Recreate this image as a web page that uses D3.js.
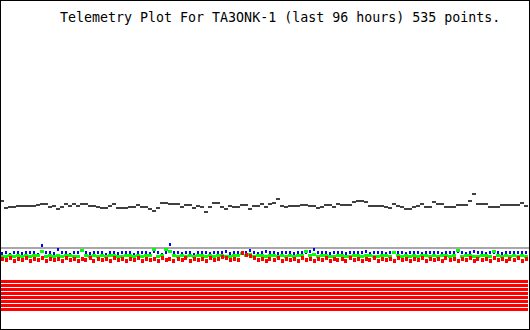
<!DOCTYPE html>
<html>
<head>
<meta charset="utf-8">
<script src="https://cdn.jsdelivr.net/npm/d3@7"></script>
<style>
  html, body { margin: 0; padding: 0; background: #fff; }
  svg { display: block; }
</style>
</head>
<body>
<script>
// ---- data ----
const title = "Telemetry Plot For TA3ONK-1 (last 96 hours) 535 points.";

// dark-grey channel (sampled every ~4 px across the plot)
const ch1 = [
  12.90,12.20,12.27,12.27,12.43,12.43,12.37,12.37,12.37,12.50,
  12.55,12.60,12.30,12.45,12.05,12.27,12.60,12.43,12.55,12.45,
  12.60,12.55,12.45,12.45,12.35,12.20,12.20,12.40,12.60,12.17,
  12.17,12.25,12.33,12.33,12.53,12.35,12.35,12.15,11.90,12.20,
  12.67,12.67,12.55,12.60,12.60,12.33,12.50,12.50,12.20,12.43,
  12.33,11.85,12.30,12.67,12.67,12.30,12.10,12.43,12.33,12.33,
  12.50,12.50,12.15,12.43,12.43,12.60,12.33,12.60,12.67,13.10,
  12.43,12.27,12.43,12.43,12.43,12.50,12.50,12.43,12.43,12.25,
  12.33,12.50,12.50,12.33,12.60,12.50,12.50,12.50,12.77,12.93,
  12.93,12.85,12.40,12.43,12.43,12.40,12.33,12.20,12.60,12.43,
  12.27,12.10,12.15,12.33,12.43,12.60,12.33,12.33,12.77,12.60,
  12.55,12.33,12.33,12.33,12.50,12.53,12.53,12.90,13.60,12.63,
  12.63,12.55,12.33,12.33,12.33,12.50,12.50,12.50,12.50,12.50,
  12.70,12.45
];

const chBlue = [
  7.65,7.70,7.60,7.75,7.80,7.65,7.80,7.70,7.75,7.60,
  8.40,7.70,7.75,7.65,8.05,7.80,7.70,7.60,7.75,7.80,
  8.00,7.70,7.65,7.80,7.70,7.75,7.60,7.80,7.70,7.65,
  7.75,7.80,7.70,7.60,7.75,7.70,7.80,7.65,7.85,7.70,
  7.60,7.75,8.55,7.70,7.80,7.65,7.75,7.70,7.60,7.80,
  7.70,7.75,7.65,7.80,7.70,7.75,7.85,7.65,7.70,7.80,
  7.75,7.70,8.00,7.80,7.65,7.75,7.90,7.70,7.80,7.65,
  7.75,7.70,7.80,7.65,7.75,7.80,7.70,7.85,8.05,7.70,
  7.75,7.80,7.65,7.70,7.80,7.75,7.65,7.70,7.80,7.75,
  7.70,7.85,7.65,7.75,7.70,7.80,7.65,7.75,7.70,7.80,
  7.75,7.65,7.80,7.70,7.75,7.65,7.80,7.70,7.75,7.80,
  7.65,7.70,7.80,7.75,7.85,7.70,7.65,7.75,7.85,7.70,
  7.80,7.65,7.75,7.70,7.80,7.65,7.75,7.80,7.70,7.75,
  7.80,7.70
];

const chGreen = [
  7.40,7.35,7.45,7.40,7.50,7.35,7.45,7.40,7.50,7.45,
  7.85,7.40,7.45,7.35,7.50,7.40,7.45,7.50,7.40,7.35,
  7.95,7.45,7.40,7.50,7.35,7.45,7.40,7.50,7.45,7.40,
  7.35,7.45,7.50,7.40,7.45,7.35,7.50,7.45,8.05,7.40,
  7.50,8.05,7.90,7.45,7.40,7.50,7.35,7.45,7.40,7.50,
  7.45,7.35,7.50,7.40,7.45,7.50,7.40,7.35,7.45,7.50,
  7.65,7.45,7.55,7.40,7.45,7.50,7.35,7.45,7.50,7.40,
  7.45,7.35,7.50,7.40,7.45,7.50,7.85,7.45,7.60,7.40,
  7.50,7.45,7.35,7.40,7.50,7.45,7.40,7.35,7.50,7.45,
  7.40,7.50,7.45,7.35,7.40,7.50,7.45,7.40,7.75,7.45,
  7.40,7.50,7.35,7.45,7.40,7.50,7.45,7.35,7.50,7.40,
  7.45,7.50,7.40,7.45,7.95,7.40,7.50,7.45,7.35,7.40,
  7.50,7.45,7.40,7.85,7.50,7.40,7.45,7.35,7.50,7.40,
  7.45,7.40
];

const chRed = [
  7.15,7.00,7.20,6.95,7.15,7.05,7.20,6.95,7.10,7.00,
  7.20,6.95,7.15,7.05,7.10,6.90,7.20,7.00,7.15,6.95,
  7.10,7.00,7.20,6.95,7.15,7.05,7.10,6.90,7.20,7.00,
  7.15,6.95,7.10,7.05,7.20,6.95,7.15,7.00,7.10,6.90,
  7.20,7.00,7.15,6.95,7.10,7.05,7.20,6.95,7.15,7.00,
  7.10,6.90,7.20,7.00,7.15,7.30,7.25,7.00,7.15,7.05,
  7.70,7.50,7.40,7.20,7.00,7.15,6.95,7.10,7.05,7.20,
  6.95,7.15,7.00,7.10,6.90,7.20,7.00,7.15,6.95,7.10,
  7.05,7.20,6.95,7.15,7.00,7.10,6.90,7.20,7.00,7.15,
  6.95,7.10,7.05,7.20,6.95,7.15,7.00,7.10,6.90,7.20,
  7.00,7.15,6.95,7.10,7.05,7.20,6.95,7.15,7.00,7.10,
  6.90,7.20,7.00,7.15,6.95,7.10,7.05,7.20,6.95,7.15,
  7.00,7.10,6.90,7.20,7.00,7.15,6.95,7.10,7.05,7.20,
  6.95,7.10
];

const refLevel = [8.2];
const bitChannels = ["B1","B2","B3","B4","B5","B6","B7","B8"];
const bitState = [1,1,1,1,1,1,1,1];

// ---- drawing ----
const W = 530, H = 330;
const svg = d3.select("body").append("svg")
  .attr("width", W).attr("height", H)
  .attr("shape-rendering", "crispEdges");

svg.append("rect").attr("x",0).attr("y",0).attr("width",W).attr("height",H).attr("fill","#fff");

const n = ch1.length;
const x = d3.scaleLinear().domain([0, n - 1]).range([2, 526]);
const y = d3.scaleLinear().domain([0, 33]).range([330, 0]);
const xFull = d3.scaleLinear().domain([0, 1]).range([1, 529]);
const yBits = d3.scaleBand().domain(bitChannels).range([279.5, 311.5])
  .paddingInner(0.25).paddingOuter(0.125);

// reference line
svg.selectAll("rect.ref").data(refLevel).enter().append("rect")
  .attr("class","ref")
  .attr("x", xFull(0)).attr("width", xFull(1) - xFull(0))
  .attr("y", d => Math.round(y(d)) - 1).attr("height", 2)
  .attr("fill", "#a8a8a8");

// digital bits
svg.selectAll("rect.bit").data(bitChannels.filter((b,i)=>bitState[i])).enter().append("rect")
  .attr("class","bit")
  .attr("x", xFull(0)).attr("width", xFull(1) - xFull(0) - 1)
  .attr("y", d => Math.round(yBits(d))).attr("height", Math.round(yBits.bandwidth()))
  .attr("fill", "#ff0000");

function dots(data, color, w, h) {
  svg.append("g").selectAll("rect").data(data).enter().append("rect")
    .attr("x", (d,i) => Math.round(x(i) - w/2))
    .attr("width", w)
    .attr("y", d => Math.round(y(d) - h/2))
    .attr("height", h)
    .attr("fill", color);
}

dots(ch1, "#404040", 4, 2);
dots(chBlue, "#0000ff", 2, 3);
dots(chGreen, "#00ff00", 4, 3);
dots(chRed, "#ff0000", 3, 4);

// frame
svg.append("rect").attr("x",0.5).attr("y",0.5).attr("width",W-1).attr("height",H-1)
  .attr("fill","none").attr("stroke","#000").attr("stroke-width",1);

// title
svg.append("text")
  .attr("x", 60).attr("y", 22)
  .attr("font-family", "'DejaVu Sans Mono', monospace")
  .attr("font-size", 13.3)
  .attr("fill", "#000")
  .text(title);
</script>
</body>
</html>
